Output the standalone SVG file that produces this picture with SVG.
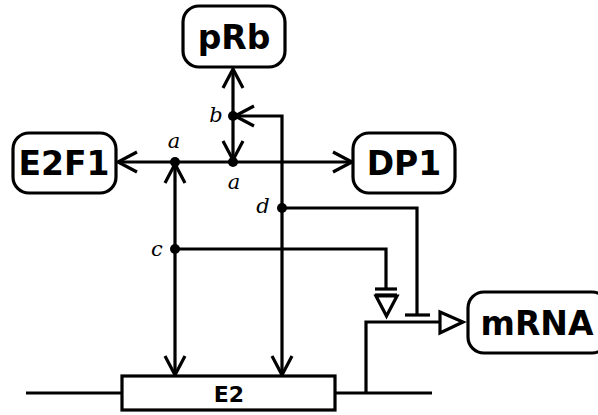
<svg xmlns="http://www.w3.org/2000/svg" width="598" height="415" viewBox="0 0 598 415">
<style>
.box{fill:#fff;stroke:#000;stroke-width:3.2}
.ln{fill:none;stroke:#000;stroke-width:3.2}
.lbl{font-family:"DejaVu Sans",sans-serif;font-weight:bold;text-anchor:middle;dominant-baseline:central}
.it{font-family:"DejaVu Serif",serif;font-style:italic;font-size:21px;text-anchor:middle}
</style>
<defs>
<marker id="ah" viewBox="-22 -12 24 24" markerWidth="24" markerHeight="24" refX="0" refY="0" orient="auto-start-reverse" markerUnits="userSpaceOnUse">
<path d="M-19,-10 L0,0 L-19,10" fill="none" stroke="#000" stroke-width="3.2"/>
</marker>
</defs>
<rect width="598" height="415" fill="#fff"/>
<g id="connectors">
<line class="ln" x1="118" y1="162" x2="352" y2="162" marker-start="url(#ah)" marker-end="url(#ah)"/>
<line class="ln" x1="233" y1="69" x2="233" y2="160" marker-start="url(#ah)" marker-end="url(#ah)"/>
<line class="ln" x1="175" y1="164" x2="175" y2="375" marker-start="url(#ah)" marker-end="url(#ah)"/>
<path class="ln" d="M235,116 L282,116 L282,375" marker-start="url(#ah)" marker-end="url(#ah)"/>
<path class="ln" d="M282,208 L417,208 L417,315"/>
<line class="ln" x1="405" y1="315" x2="430" y2="315"/>
<path class="ln" d="M175,249 L386,249 L386,289"/>
<line class="ln" x1="375" y1="289" x2="397" y2="289"/>
<line class="ln" x1="375" y1="295" x2="397" y2="295"/>
<path d="M376,296 L397,296 L386.5,316 Z" fill="#fff" stroke="#000" stroke-width="3.2"/>
<path class="ln" d="M366,394 L366,322 L440,322"/>
<path d="M440,312 L463,322 L440,333 Z" fill="#fff" stroke="#000" stroke-width="3.2"/>
<line class="ln" x1="26" y1="393" x2="122" y2="393"/>
<line class="ln" x1="336" y1="393" x2="432" y2="393"/>
<circle cx="175" cy="162" r="5"/>
<circle cx="233" cy="162" r="5"/>
<circle cx="233" cy="116" r="5"/>
<circle cx="282" cy="208" r="5"/>
<circle cx="175" cy="249" r="5"/>
<text class="it" x="174" y="148">a</text>
<text class="it" x="234" y="189">a</text>
<text class="it" x="216" y="122">b</text>
<text class="it" x="157" y="256">c</text>
<text class="it" x="263" y="213">d</text>
</g>
<g id="pRb">
<rect class="box" x="183" y="6" width="102" height="61" rx="16"/>
<text class="lbl" x="234" y="37" font-size="33">pRb</text>
</g>
<g id="E2F1">
<rect class="box" x="13" y="133" width="103" height="60" rx="16"/>
<text class="lbl" x="64" y="163" font-size="33">E2F1</text>
</g>
<g id="DP1">
<rect class="box" x="353" y="133" width="102" height="60" rx="16"/>
<text class="lbl" x="404" y="163" font-size="33">DP1</text>
</g>
<g id="mRNA">
<rect class="box" x="468" y="292" width="140" height="61" rx="16"/>
<text class="lbl" x="537" y="323" font-size="33">mRNA</text>
</g>
<g id="E2">
<rect class="box" x="122" y="376" width="213" height="34"/>
<text class="lbl" x="229" y="394" font-size="22">E2</text>
</g>
</svg>
